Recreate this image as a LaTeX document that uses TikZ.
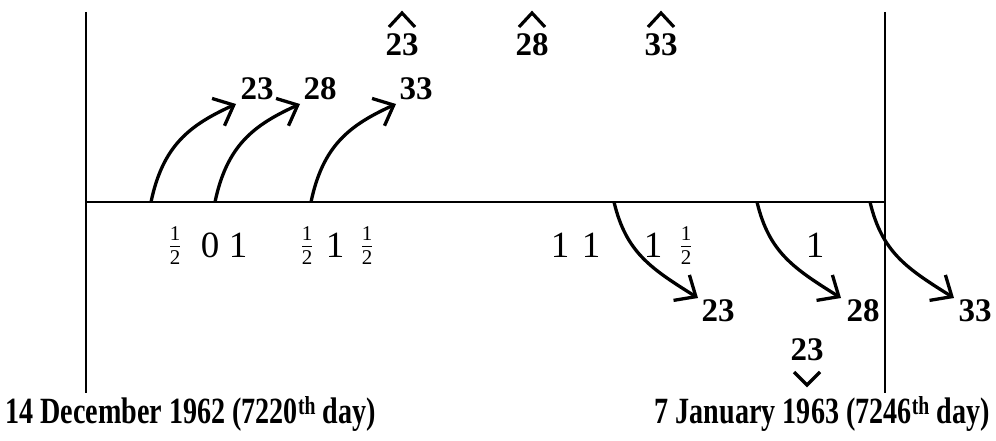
\documentclass[tikz,border=0pt]{standalone}
\usepackage{fontspec}
\setmainfont{Liberation Serif}
\usetikzlibrary{arrows.meta}
\tikzset{
  frame/.style={line width=1.6pt},
  timeline/.style={line width=1.5pt},
  jump/.style={line width=3.3pt,-{Straight Barb[length=17pt,width=30pt,line width=3.3pt]}},
  hat/.style={line width=3.2pt,line join=miter},
  big/.style={font=\fontsize{33}{33}\selectfont\bfseries,inner sep=0pt},
  num/.style={font=\fontsize{37}{37}\selectfont,inner sep=0pt},
  small/.style={font=\fontsize{21}{21}\selectfont,inner sep=0pt},
  date/.style={font=\fontsize{37}{37}\selectfont\bfseries,inner sep=0pt},
  half/.pic={
    \node[small] (-n) at (0,-11) {1};
    \node[small] (-d) at (0,13) {2};
    \draw[line width=0.8pt] (-5,1) -- (5,1);
  }
}
\begin{document}
\begin{tikzpicture}[x=1pt,y=-1pt]
\useasboundingbox (0,0) rectangle (996,441);
% frame
\coordinate (lt) at (86,12); \coordinate (lb) at (86,393);
\coordinate (rt) at (885,12); \coordinate (rb) at (885,393);
\coordinate (ll) at (86,202); \coordinate (lr) at (885,202);
\draw[frame] (lt) -- (lb);
\draw[frame] (rt) -- (rb);
\draw[timeline] (ll) -- (lr);
% upward jumps
\coordinate (u1s) at (151,202); \coordinate (u1e) at (236,104);
\coordinate (u2s) at (215,202); \coordinate (u2e) at (300,104);
\coordinate (u3s) at (311,202); \coordinate (u3e) at (396,104);
\draw[jump] (u1s) .. controls (163,145) and (190,125) .. (u1e);
\draw[jump] (u2s) .. controls (227,145) and (254,125) .. (u2e);
\draw[jump] (u3s) .. controls (323,145) and (350,125) .. (u3e);
\node[big] (ua) at (257,89) {23};
\node[big] (ub) at (320,89) {28};
\node[big] (uc) at (416,89) {33};
% hatted labels
\node[big] (h1) at (402,45) {23};
\node[big] (h2) at (532,45) {28};
\node[big] (h3) at (661,45) {33};
\foreach \x in {402,532,661}{
  \draw[hat] (\x-13,27) -- (\x,13) -- (\x+13,27);
}
% numbers under the line
\pic (f1) at (175,245) {half};
\node[num] (n2) at (210,245) {0};
\node[num] (n3) at (238,245) {1};
\pic (f2) at (307,245) {half};
\node[num] (n5) at (335,245) {1};
\pic (f3) at (367,245) {half};
\node[num] (n7) at (560,245) {1};
\node[num] (n8) at (591,245) {1};
\node[num] (n9) at (653,245) {1};
\pic (f4) at (686,245) {half};
\node[num] (n11) at (815,245) {1};
% downward jumps
\coordinate (d1s) at (614,202); \coordinate (d1e) at (698,298);
\coordinate (d2s) at (757,202); \coordinate (d2e) at (841,298);
\coordinate (d3s) at (870,202); \coordinate (d3e) at (954,298);
\draw[jump] (d1s) .. controls (626,252) and (650,268) .. (d1e);
\draw[jump] (d2s) .. controls (769,252) and (793,268) .. (d2e);
\draw[jump] (d3s) .. controls (882,252) and (906,268) .. (d3e);
\node[big] (da) at (718,311) {23};
\node[big] (db) at (863,311) {28};
\node[big] (dc) at (975,311) {33};
% checked label
\node[big] (v1) at (807,350) {23};
\draw[hat] (794,372) -- (807,385) -- (820,372);
% dates
\node[date,anchor=west] (dl) at (5,414) {\scalebox{0.76}[1]{14 December 1962 (7220\textsuperscript{th} day)}};
\node[date,anchor=east] (dr) at (990,414) {\scalebox{0.76}[1]{7 January 1963 (7246\textsuperscript{th} day)}};
\end{tikzpicture}
\end{document}
